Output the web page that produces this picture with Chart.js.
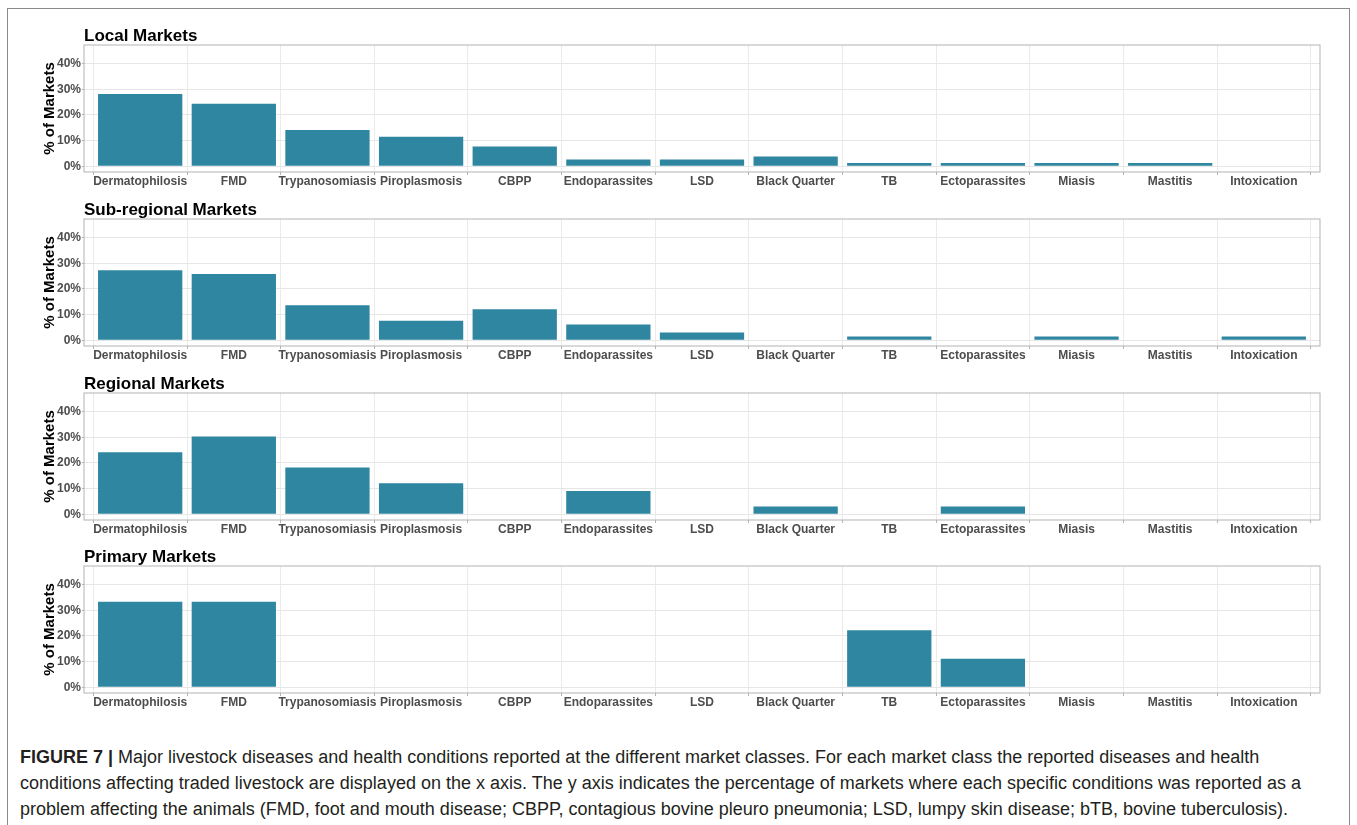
<!DOCTYPE html>
<html lang="en">
<head>
    <meta charset="UTF-8">
    <title>Figure 7 - Livestock diseases by market class</title>
    <script src="https://cdn.jsdelivr.net/npm/chart.js"></script>
    <style>
        html, body { margin: 0; padding: 0; background: #fff; overflow: hidden; }
        body { width: 1357px; height: 825px; position: relative; font-family: "Liberation Sans", Arial, sans-serif; }
        .frame { position: absolute; left: 7px; top: 8px; width: 1343px; height: 840px; border: 1.5px solid #8a8a8a; box-sizing: border-box; }
        .panel { position: absolute; left: 20px; width: 1320px; height: 166px; }
        .caption { position: absolute; left: 20px; top: 744px; font-family: "Liberation Sans Narrow", "Liberation Sans", Arial, sans-serif; font-size: 18px; line-height: 26px; color: #231f20; white-space: nowrap; }
        .caption b { font-family: "Liberation Sans", Arial, sans-serif; font-weight: bold; }
    </style>
</head>
<body>
    <div class="frame"></div>

    <div class="panel" style="top:28px"><canvas id="localChart"></canvas></div>
    <div class="panel" style="top:202px"><canvas id="subRegionalChart"></canvas></div>
    <div class="panel" style="top:375.5px"><canvas id="regionalChart"></canvas></div>
    <div class="panel" style="top:548.5px"><canvas id="primaryChart"></canvas></div>

    <div class="caption">
        <span class="line"><b>FIGURE 7 |</b> Major livestock diseases and health conditions reported at the different market classes. For each market class the reported diseases and health</span><br>
        <span class="line">conditions affecting traded livestock are displayed on the x axis. The y axis indicates the percentage of markets where each specific conditions was reported as a</span><br>
        <span class="line">problem affecting the animals (FMD, foot and mouth disease; CBPP, contagious bovine pleuro pneumonia; LSD, lumpy skin disease; bTB, bovine tuberculosis).</span>
    </div>

    <script>
        // Data (% of markets)
        const categories = ['Dermatophilosis', 'FMD', 'Trypanosomiasis', 'Piroplasmosis', 'CBPP', 'Endoparassites',
            'LSD', 'Black Quarter', 'TB', 'Ectoparassites', 'Miasis', 'Mastitis', 'Intoxication'];
        const localValues = [28.2, 24.4, 14.1, 11.5, 7.7, 2.6, 2.6, 3.8, 1.3, 1.3, 1.3, 1.3, 0];
        const subRegionalValues = [27.3, 25.8, 13.6, 7.6, 12.1, 6.1, 3.0, 0, 1.5, 0, 1.5, 0, 1.5];
        const regionalValues = [24.2, 30.3, 18.2, 12.1, 0, 9.1, 0, 3.0, 0, 3.0, 0, 0, 0];
        const primaryValues = [33.3, 33.3, 0, 0, 0, 0, 0, 0, 22.2, 11.1, 0, 0, 0];
        const yTickValues = [0, 5, 10, 15, 20, 25, 30, 35, 40, 45];

        Chart.defaults.font.family = "'Liberation Sans', Arial, sans-serif";
        Chart.defaults.animation = false;

        // panel border like ggplot theme_light
        const panelBorder = {
            id: 'panelBorder',
            afterDraw(chart) {
                const { ctx, chartArea: a } = chart;
                ctx.save();
                ctx.strokeStyle = '#b3b3b3';
                ctx.lineWidth = 1;
                ctx.strokeRect(a.left, a.top, a.right - a.left, a.bottom - a.top);
                ctx.restore();
            }
        };

        function makePanel(id, title, values) {
            const ctx = document.getElementById(id).getContext('2d');
            return new Chart(ctx, {
                type: 'bar',
                data: {
                    datasets: [{
                        data: values.map((v, i) => ({ x: i, y: v })),
                        backgroundColor: '#2e86a0',
                        borderWidth: 0,
                        barPercentage: 0.9,
                        categoryPercentage: 1
                    }]
                },
                options: {
                    responsive: true,
                    maintainAspectRatio: false,
                    layout: { padding: { right: 20 } },
                    plugins: {
                        legend: { display: false },
                        tooltip: { enabled: false },
                        title: {
                            display: true,
                            text: title,
                            align: 'start',
                            fullSize: false,
                            color: '#000',
                            padding: 0,
                            font: { size: 17, weight: 'bold', lineHeight: 1 }
                        }
                    },
                    scales: {
                        x: {
                            type: 'linear',
                            min: -0.6,
                            max: 12.6,
                            offset: false,
                            afterBuildTicks: (scale) => { scale.ticks = categories.map((c, i) => ({ value: i })); },
                            afterFit: (scale) => { scale.height = 22; },
                            border: { display: false },
                            grid: { color: '#ebebeb', tickColor: '#b3b3b3', tickLength: 3 },
                            ticks: {
                                autoSkip: false,
                                maxRotation: 0,
                                padding: -1,
                                color: '#4d4d4d',
                                font: { size: 12, weight: 'bold' },
                                callback: (v) => categories[v]
                            }
                        },
                        y: {
                            min: -2.25,
                            max: 47.25,
                            afterBuildTicks: (scale) => { scale.ticks = yTickValues.map(v => ({ value: v })); },
                            afterFit: (scale) => { scale.width = 64; },
                            border: { display: false },
                            grid: {
                                color: (c) => c.tick && c.tick.value % 10 === 0 ? '#e6e6e6' : '#f3f3f3',
                                tickColor: (c) => c.tick && c.tick.value % 10 === 0 ? '#b3b3b3' : 'rgba(0,0,0,0)',
                                tickLength: 2
                            },
                            ticks: {
                                padding: 1,
                                color: '#4d4d4d',
                                font: { size: 12, weight: 'bold' },
                                callback: (v) => v % 10 === 0 ? v + '%' : ''
                            },
                            title: {
                                display: true,
                                text: '% of Markets',
                                color: '#000',
                                padding: { top: 21, bottom: 0 },
                                font: { size: 15, weight: 'bold' }
                            }
                        }
                    }
                },
                plugins: [panelBorder]
            });
        }

        makePanel('localChart', 'Local Markets', localValues);
        makePanel('subRegionalChart', 'Sub-regional Markets', subRegionalValues);
        makePanel('regionalChart', 'Regional Markets', regionalValues);
        makePanel('primaryChart', 'Primary Markets', primaryValues);
    </script>
</body>
</html>
